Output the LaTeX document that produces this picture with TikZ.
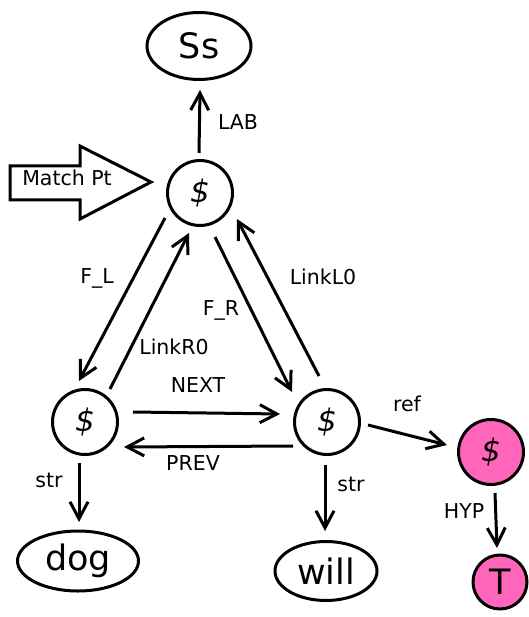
\documentclass[tikz,border=0pt]{standalone}
\usepackage{fontspec}
\setmainfont{DejaVu Sans}
\usetikzlibrary{arrows.meta,shapes.geometric,calc}
\definecolor{hyppink}{RGB}{255,102,187}
\begin{document}
\begin{tikzpicture}[x=1pt,y=-1pt,
  lw/.style={line width=3pt},
  state/.style={circle,draw,lw,minimum size=65pt,inner sep=0pt,
    font=\fontsize{31}{36}\selectfont\itshape},
  hyp/.style={state,fill=hyppink},
  word/.style={ellipse,draw,lw,inner sep=0pt,font=\fontsize{35}{40}\selectfont},
  link/.style={lw,-{Straight Barb[length=17pt,width=18pt]}},
  lbl/.style={font=\fontsize{20.5}{24}\selectfont,inner sep=0pt,
    text height=0.73em,text depth=0pt},
]
\useasboundingbox (0,0) rectangle (528,617);

% feature structure nodes
\node[word,minimum width=104pt,minimum height=67pt] (Ss) at (199,46) {Ss};
\node[state] (top) at (200,193) {\$};
\node[state] (L) at (85,422) {\$};
\node[state] (R) at (327,422) {\$};
\node[hyp] (P) at (491,452) {\$};
\node[hyp,minimum size=54pt,font=\fontsize{35}{40}\selectfont] (T) at (500,582) {T};
\node[word,minimum width=121pt,minimum height=60pt] (dog) at (78,561) {dog};
\node[word,minimum width=102pt,minimum height=59pt] (will) at (326,571) {will};

% match point marker
\draw[lw,line join=miter] (10,166) -- (80,166) -- (80,146) -- (151,182)
  -- (80,219) -- (80,200) -- (10,200) -- cycle;
\node[lbl] (match) at (67,182) {Match Pt};

% links
\draw[link] ($(top)+(-1,-40)$) -- ($(Ss)+(1,44)$);
\draw[link] ($(top)+(-35,25)$) -- ($(L)+(-6,-41)$);
\draw[link] ($(L)+(25,-33)$) -- ($(top)+(-11,40)$);
\draw[link] ($(top)+(15,44)$) -- ($(R)+(-35,-30)$);
\draw[link] ($(R)+(-8,-46)$) -- ($(top)+(37,26)$);
\draw[link] ($(L)+(48,-10)$) -- ($(R)+(-47,-8)$);
\draw[link] ($(R)+(-34,24)$) -- ($(L)+(39,25)$);
\draw[link] ($(R)+(41,3)$) -- ($(P)+(-44,-7)$);
\draw[link] ($(L)+(-6,41)$) -- ($(dog)+(1,-39)$);
\draw[link] ($(R)+(-2,43)$) -- ($(will)+(-1,-40)$);
\draw[link] ($(P)+(4,41)$) -- ($(T)+(-3,-34)$);

% link labels
\node[lbl] (lLAB) at (238,126) {LAB};
\node[lbl] (lFL) at (97,280) {F\_L};
\node[lbl] (lLR) at (174,351) {LinkR0};
\node[lbl] (lFR) at (221,312) {F\_R};
\node[lbl] (lLL) at (323,281) {LinkL0};
\node[lbl] (lNX) at (198,389) {NEXT};
\node[lbl] (lPV) at (193,467) {PREV};
\node[lbl] (lref) at (407,408) {ref};
\node[lbl] (lstrL) at (49,484) {str};
\node[lbl] (lstrR) at (351,488) {str};
\node[lbl] (lHYP) at (464,515) {HYP};
\end{tikzpicture}
\end{document}
